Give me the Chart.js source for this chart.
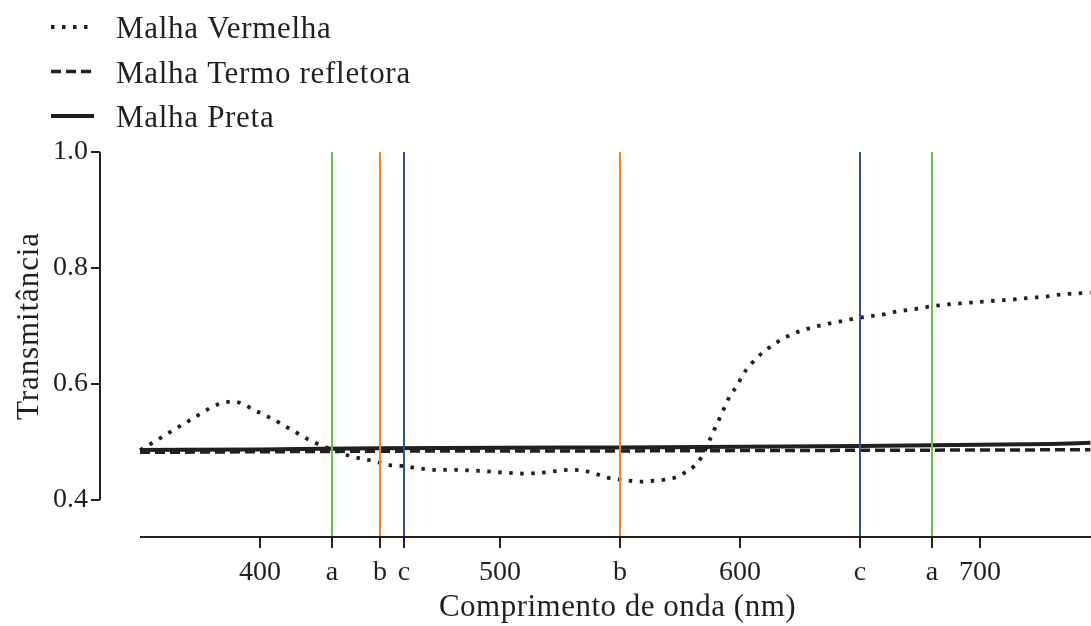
<!DOCTYPE html>
<html><head><meta charset="utf-8">
<script src="https://cdn.jsdelivr.net/npm/chart.js@4/dist/chart.umd.min.js"></script>
<style>html,body{margin:0;padding:0;background:#fff}#wrap{width:1091px;height:626px;position:relative}</style>
</head><body><div id="wrap"><canvas id="c" width="1091" height="626"></canvas></div>
<script>
// ---- data ----
const seriesNames = ['Malha Vermelha', 'Malha Termo refletora', 'Malha Preta'];
const redNm = [350,355,359,363,367,371,375,379,383,388,393,397,401,406,410,414,418,422,426,431,435,440,445,450,454,459,464,468,473,478,483,488,492,497,502,506,511,516,521,526,530,535,540,544,549,554,559,564,568,573,577,581,584,588,590,592,594,596,599,601,604,607,611,615,619,623,628,632,637,642,646,651,656,661,665,670,675,679,684,689,694,698,703,708,713,717,722,727,732,736,741,746];
const redT = [0.486,0.498,0.508,0.518,0.528,0.538,0.548,0.558,0.5655,0.5695,0.5655,0.556,0.548,0.538,0.528,0.519,0.509,0.5005,0.493,0.486,0.479,0.473,0.469,0.464,0.460,0.4586,0.4557,0.4534,0.4517,0.4517,0.4517,0.4505,0.450,0.4483,0.447,0.446,0.4453,0.4465,0.4485,0.451,0.452,0.450,0.445,0.439,0.4356,0.433,0.4316,0.433,0.4345,0.4385,0.447,0.4586,0.474,0.509,0.5276,0.545,0.5638,0.581,0.598,0.615,0.631,0.645,0.659,0.6707,0.6805,0.688,0.695,0.6995,0.704,0.708,0.7115,0.715,0.7178,0.7207,0.7247,0.7276,0.7306,0.7333,0.736,0.738,0.7395,0.741,0.7425,0.744,0.7453,0.747,0.7488,0.7505,0.7534,0.755,0.756,0.7575];
const termoNm = [350,400,450,500,550,600,650,700,746];
const termoT = [0.482,0.483,0.484,0.4845,0.4845,0.485,0.4855,0.486,0.4865];
const pretaNm = [350,400,450,500,550,600,650,700,730,746];
const pretaT = [0.486,0.487,0.489,0.490,0.4905,0.4915,0.493,0.495,0.4965,0.4985];
const markerNm = [430, 450, 460, 550, 650, 680];
const markerKey = ['a', 'b', 'c', 'b', 'c', 'a'];
const xTickValues = [400, 430, 450, 460, 500, 550, 600, 650, 680, 700];
const xTickLabels = ['400', 'a', 'b', 'c', '500', 'b', '600', 'c', 'a', '700'];
const yTickValues = [0.4, 0.6, 0.8, 1.0];
const xTitle = 'Comprimento de onda (nm)';
const yTitle = 'Transmitância';
const xRange = [333.33, 746.25];
const yRange = [0.336, 1.0];
const axisStart = 350;

// ---- styles ----
const FONT = "'Liberation Serif','Times New Roman',serif";
const INK = '#231f20';
const markerColor = { a: '#6cc04a', b: '#f5842a', c: '#2d50a0' };
const lineStyles = [
  { dash: [3.5, 7.5], width: 3.8 },
  { dash: [10, 5], width: 3.5 },
  { dash: [], width: 4 }
];

const toPts = (xs, ys) => xs.map((x, i) => ({ x, y: ys[i] }));
const seriesPts = [toPts(redNm, redT), toPts(termoNm, termoT), toPts(pretaNm, pretaT)];

const datasets = [];
markerNm.forEach((nm, i) => {
  datasets.push({
    label: 'marker ' + markerKey[i],
    data: [{ x: nm, y: yRange[0] }, { x: nm, y: yRange[1] }],
    borderColor: markerColor[markerKey[i]],
    borderWidth: 2,
    pointRadius: 0,
    order: 0
  });
});
seriesNames.forEach((name, i) => {
  datasets.push({
    label: name,
    data: seriesPts[i],
    borderColor: INK,
    borderWidth: lineStyles[i].width,
    borderDash: lineStyles[i].dash,
    borderCapStyle: 'butt',
    cubicInterpolationMode: 'monotone',
    pointRadius: 0,
    order: 1
  });
});

const decor = {
  id: 'decor',
  afterDraw(chart) {
    const { ctx, chartArea } = chart;
    const xs = chart.scales.x, ys = chart.scales.y;
    ctx.save();
    ctx.strokeStyle = INK;
    ctx.lineWidth = 2;
    // x axis line
    ctx.beginPath();
    ctx.moveTo(xs.getPixelForValue(axisStart), chartArea.bottom);
    ctx.lineTo(chartArea.right, chartArea.bottom);
    ctx.stroke();
    // y axis line
    ctx.beginPath();
    ctx.moveTo(chartArea.left, ys.getPixelForValue(yTickValues[0]));
    ctx.lineTo(chartArea.left, ys.getPixelForValue(yTickValues[yTickValues.length - 1]));
    ctx.stroke();
    // titles
    ctx.fillStyle = INK;
    ctx.font = '31px ' + FONT;
    ctx.textAlign = 'center';
    ctx.textBaseline = 'middle';
    ctx.letterSpacing = '0.5px';
    const xc = (xs.getPixelForValue(axisStart) + chartArea.right) / 2;
    ctx.fillText(xTitle, xc + 2, 608);
    const yc = (ys.getPixelForValue(yTickValues[0]) + ys.getPixelForValue(yTickValues[yTickValues.length - 1])) / 2;
    ctx.save();
    ctx.letterSpacing = '0.9px';
    ctx.translate(30, yc);
    ctx.rotate(-Math.PI / 2);
    ctx.fillText(yTitle, 0, 0);
    ctx.restore();
    // legend
    ctx.textAlign = 'left';
    ctx.font = '31px ' + FONT;
    ctx.letterSpacing = '0.7px';
    seriesNames.forEach((name, i) => {
      const y = 27 + i * 44.5;
      ctx.save();
      ctx.lineWidth = lineStyles[i].width;
      ctx.setLineDash(lineStyles[i].dash);
      ctx.lineCap = 'butt';
      ctx.beginPath();
      ctx.moveTo(51, y);
      ctx.lineTo(94, y);
      ctx.stroke();
      ctx.restore();
      ctx.fillText(name, 116, y + 3);
    });
    ctx.restore();
  }
};

new Chart(document.getElementById('c'), {
  type: 'line',
  data: { datasets },
  options: {
    responsive: false,
    animation: false,
    events: [],
    devicePixelRatio: 1,
    layout: { padding: { top: 152, left: 0, right: 0, bottom: 0 } },
    plugins: { legend: { display: false }, tooltip: { enabled: false }, title: { display: false } },
    scales: {
      x: {
        type: 'linear',
        min: xRange[0], max: xRange[1],
        afterFit: (s) => { s.height = 89; },
        afterBuildTicks: (s) => { s.ticks = xTickValues.map(v => ({ value: v })); },
        ticks: {
          autoSkip: false, maxRotation: 0, minRotation: 0,
          color: INK, font: { family: FONT, size: 28 }, padding: 8,
          callback: (v, i) => xTickLabels[i]
        },
        grid: { drawOnChartArea: false, drawTicks: true, tickLength: 11, color: INK, lineWidth: 2 },
        border: { display: false }
      },
      y: {
        type: 'linear',
        min: yRange[0], max: yRange[1],
        afterFit: (s) => { s.width = 100; },
        afterBuildTicks: (s) => { s.ticks = yTickValues.map(v => ({ value: v })); },
        ticks: {
          color: INK, font: { family: FONT, size: 28 }, padding: 3,
          callback: (v) => v.toFixed(1)
        },
        grid: { drawOnChartArea: false, drawTicks: true, tickLength: 9, color: INK, lineWidth: 2 },
        border: { display: false }
      }
    }
  },
  plugins: [decor]
});
</script>
</body></html>
